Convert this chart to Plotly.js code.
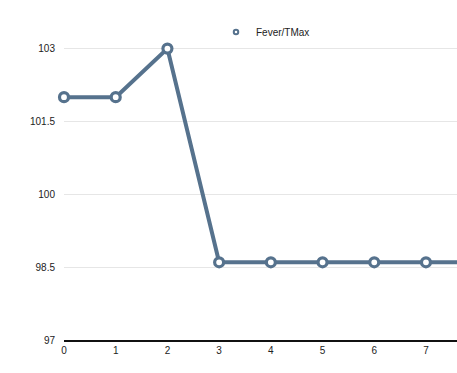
<!DOCTYPE html>
<html><head><meta charset="utf-8">
<script src="https://cdn.plot.ly/plotly-3.0.1.min.js"></script>
<style>html,body{margin:0;padding:0;background:#fff;}#chart{width:457px;height:373px;}</style>
</head><body><div id="chart"></div>
<script>
const days = [0, 1, 2, 3, 4, 5, 6, 7, 8];
const tmax = [102, 102, 103, 98.6, 98.6, 98.6, 98.6, 98.6, 98.6];
const seriesName = 'Fever/TMax';
const yTicks = [97, 98.5, 100, 101.5, 103];
const yTickText = ['97', '98.5', '100', '101.5', '103'];
const xTicks = [0, 1, 2, 3, 4, 5, 6, 7];

const color = '#56728d';
Plotly.newPlot('chart', [{
  x: days, y: tmax, name: seriesName, type: 'scatter', mode: 'lines+markers',
  line: {color: color, width: 4},
  marker: {size: 9, color: '#ffffff', line: {color: color, width: 3.2}},
  cliponaxis: false, showlegend: false
}, {
  x: [null], y: [null], name: seriesName, type: 'scatter', mode: 'markers',
  marker: {size: 4.5, color: '#ffffff', line: {color: color, width: 2}},
  showlegend: true
}], {
  width: 457, height: 373,
  margin: {l: 64, r: 0, t: 0, b: 33, pad: 0, autoexpand: false},
  paper_bgcolor: '#fff', plot_bgcolor: '#fff',
  font: {family: 'Liberation Sans, Arial, sans-serif', size: 10, color: '#222'},
  showlegend: true,
  legend: {x: (216 - 64) / 393, y: 1 - 32 / 340, xanchor: 'left', yanchor: 'middle', orientation: 'h',
    font: {size: 10, color: '#222'}, bgcolor: 'rgba(0,0,0,0)'},
  xaxis: {range: [0, 7.6], tickvals: xTicks, ticktext: xTicks.map(String), showgrid: false,
    zeroline: false, showline: true, linecolor: '#111', linewidth: 1.5, ticks: '', ticklen: 0},
  yaxis: {range: [97, 104], tickvals: yTicks, ticktext: yTickText, showgrid: true,
    gridcolor: '#e6e6e6', gridwidth: 1, zeroline: false, showline: false, ticks: '', ticklabelstandoff: 8}
}, {displayModeBar: false, staticPlot: true});
</script></body></html>
